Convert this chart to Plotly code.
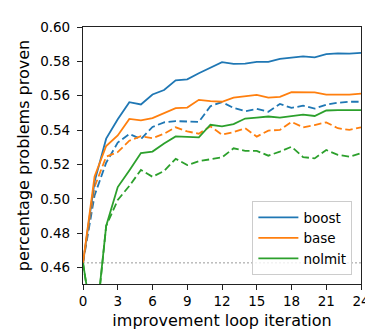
import plotly.graph_objects as go

iterations = list(range(25))

boost = [0.4627, 0.510, 0.535, 0.5463, 0.5562, 0.5549, 0.5607, 0.5633, 0.5689, 0.5695,
         0.5731, 0.5763, 0.5795, 0.5785, 0.5787, 0.5797, 0.5797, 0.5815, 0.5821, 0.5829,
         0.5823, 0.5842, 0.5847, 0.5845, 0.5849]
base = [0.4627, 0.513, 0.5307, 0.5369, 0.5465, 0.5457, 0.5470, 0.5497, 0.5528, 0.5531,
        0.5576, 0.5569, 0.5565, 0.5589, 0.5599, 0.5605, 0.5589, 0.5593, 0.5621, 0.5621,
        0.5619, 0.5606, 0.5606, 0.5606, 0.5612]
nolmit = [0.4627, 0.420, 0.4842, 0.5068, 0.5165, 0.5266, 0.5275, 0.5322, 0.5363, 0.5361,
          0.5358, 0.5431, 0.5422, 0.5435, 0.5467, 0.5473, 0.5479, 0.5473, 0.5482, 0.5490,
          0.5482, 0.5514, 0.5516, 0.5514, 0.5516]

boost_dashed = [0.4627, 0.502, 0.521, 0.5327, 0.5377, 0.5348, 0.5418, 0.5445, 0.5452, 0.5452,
                0.5448, 0.5539, 0.5563, 0.5529, 0.5510, 0.5523, 0.5507, 0.5552, 0.5529, 0.5542,
                0.5525, 0.5548, 0.5559, 0.5565, 0.5565]
base_dashed = [0.4627, 0.507, 0.5245, 0.5272, 0.5338, 0.5364, 0.5353, 0.5379, 0.5416, 0.5392,
               0.5379, 0.5422, 0.5373, 0.5388, 0.5411, 0.5362, 0.5397, 0.5401, 0.5448, 0.5416,
               0.5429, 0.5445, 0.5411, 0.5401, 0.5416]
nolmit_dashed = [0.4627, 0.418, 0.4842, 0.4993, 0.5075, 0.5168, 0.5128, 0.5162, 0.5233, 0.5196,
                 0.5219, 0.5228, 0.5241, 0.5294, 0.5279, 0.5279, 0.5251, 0.5275, 0.5303, 0.5243,
                 0.5235, 0.5284, 0.5256, 0.5245, 0.5266]

baseline = 0.4627

x_ticks = [0, 3, 6, 9, 12, 15, 18, 21, 24]
y_ticks = [0.46, 0.48, 0.50, 0.52, 0.54, 0.56, 0.58, 0.60]

series = [
    ("boost", boost, boost_dashed, "#1f77b4"),
    ("base", base, base_dashed, "#ff7f0e"),
    ("nolmit", nolmit, nolmit_dashed, "#2ca02c"),
]

fig = go.Figure()

fig.add_trace(go.Scatter(x=[0, 24], y=[baseline, baseline], mode="lines",
                         line=dict(color="#999999", width=1, dash="2px,2px"),
                         showlegend=False, hoverinfo="skip"))

for name, solid, dashed, color in series:
    fig.add_trace(go.Scatter(x=iterations, y=dashed, mode="lines",
                             line=dict(color=color, width=1.8, dash="7.5px,3.5px"),
                             showlegend=False))
for name, solid, dashed, color in series:
    fig.add_trace(go.Scatter(x=iterations, y=solid, mode="lines", name=name,
                             line=dict(color=color, width=1.8)))

fs = 13.5
font = dict(family="DejaVu Sans", size=fs, color="#000000")

fig.update_layout(
    width=373, height=329,
    margin=dict(l=75, r=11, t=15, b=49),
    paper_bgcolor="white", plot_bgcolor="white",
    font=font,
    showlegend=True,
    legend=dict(x=0.969, y=0.035, xanchor="right", yanchor="bottom",
                bgcolor="rgba(255,255,255,0.8)", bordercolor="#cccccc", borderwidth=1,
                tracegroupgap=0, itemwidth=40,
                font=dict(family="DejaVu Sans", size=fs, color="#000000")),
)
fig.update_xaxes(range=[0, 24], tickvals=x_ticks, ticks="outside", ticklen=5, tickwidth=1,
                 tickcolor="#222", showline=True, linecolor="#222", linewidth=1.2, mirror=True,
                 showgrid=False, zeroline=False, ticklabelstandoff=0,
                 title=dict(text="improvement loop iteration", standoff=6))
fig.update_yaxes(range=[0.4504, 0.60], tickvals=y_ticks, tickformat=".2f", ticks="outside",
                 ticklen=5, tickwidth=1, tickcolor="#222", showline=True, linecolor="#222",
                 linewidth=1.2, mirror=True, showgrid=False, zeroline=False,
                 ticklabelstandoff=4,
                 title=dict(text="percentage problems proven", standoff=6))

fig.write_html("out.html")
